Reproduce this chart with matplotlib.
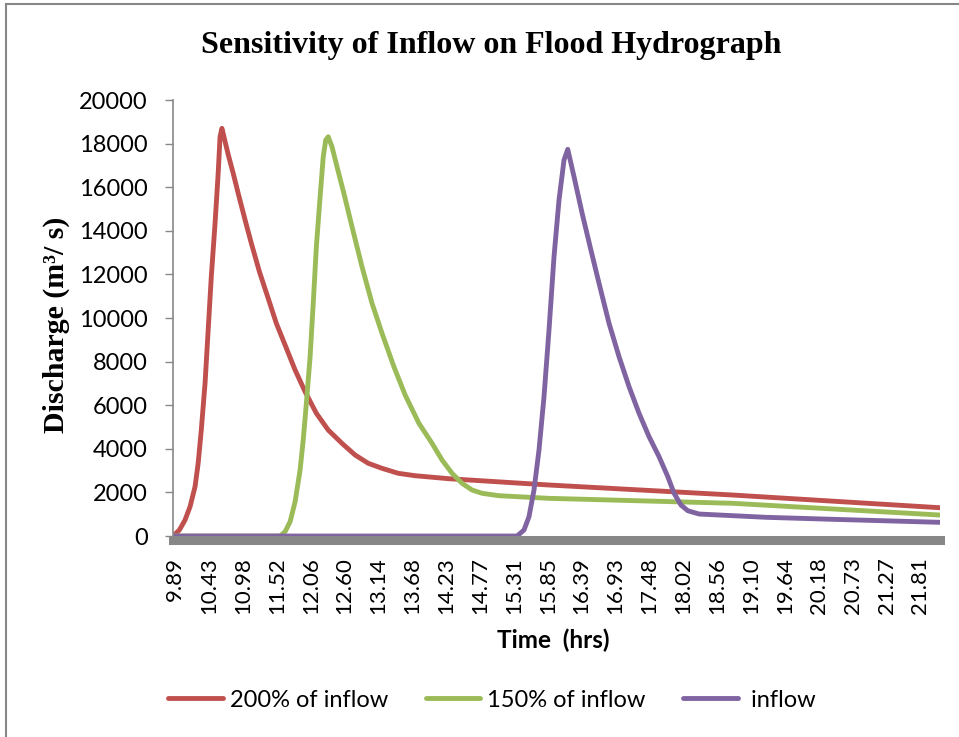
import matplotlib.pyplot as plt
from matplotlib.lines import Line2D

red_t = [9.86, 9.96, 10.05, 10.13, 10.21, 10.26, 10.31, 10.37, 10.42, 10.47, 10.53, 10.58,
         10.61, 10.64, 10.74, 10.82, 10.90, 11.01, 11.11, 11.24, 11.38, 11.51, 11.65,
         11.81, 11.97, 12.15, 12.34, 12.56, 12.77, 12.98, 13.20, 13.46, 13.73, 14.27,
         15.87, 18.81, 22.12]
red_v = [0, 275, 734, 1344, 2261, 3335, 4862, 7004, 9449, 11894, 14343, 16637,
         18316, 18700, 17500, 16640, 15720, 14500, 13430, 12120, 10900, 9757, 8760,
         7615, 6620, 5630, 4860, 4250, 3715, 3335, 3105, 2876, 2766, 2628,
         2340, 1880, 1298]

green_t = [9.86, 11.57, 11.65, 11.73, 11.81, 11.89, 11.94, 11.99, 12.05, 12.10, 12.15,
           12.21, 12.26, 12.30, 12.34, 12.40, 12.48, 12.59, 12.72, 12.88, 13.04, 13.20,
           13.39, 13.57, 13.79, 14.00, 14.16, 14.32, 14.48, 14.64, 14.80, 15.07, 15.87,
           18.81, 22.12]
green_v = [0, 0, 200, 656, 1573, 3027, 4404, 6087, 8225, 10674, 13270,
           15564, 17398, 18165, 18316, 17857, 16940, 15720, 14190, 12350, 10674, 9298,
           7766, 6468, 5170, 4252, 3486, 2876, 2417, 2110, 1959, 1849, 1729,
           1500, 963]

purple_t = [9.86, 15.36, 15.47, 15.55, 15.63, 15.71, 15.79, 15.87, 15.95, 16.03, 16.11,
            16.17, 16.27, 16.40, 16.54, 16.67, 16.83, 16.99, 17.15, 17.31, 17.47, 17.63,
            17.77, 17.87, 17.98, 18.09, 18.27, 19.34, 20.41, 22.12]
purple_v = [0, 0, 275, 885, 2110, 3945, 6390, 9449, 12810, 15412, 17247,
            17738, 16480, 14800, 13120, 11590, 9757, 8225, 6850, 5628, 4555, 3638,
            2720, 1959, 1422, 1160, 1009, 858, 766, 628]

tick_labels = ['9.89', '10.43', '10.98', '11.52', '12.06', '12.60', '13.14', '13.68',
               '14.23', '14.77', '15.31', '15.85', '16.39', '16.93', '17.48', '18.02',
               '18.56', '19.10', '19.64', '20.18', '20.73', '21.27', '21.81']
y_ticks = [0, 2000, 4000, 6000, 8000, 10000, 12000, 14000, 16000, 18000, 20000]

sans = 'Lato'
serif = 'Liberation Serif'
axis_grey = '#878787'

fig = plt.figure(figsize=(9.59, 7.37), dpi=100)
ax = fig.add_axes([0.1799, 0.2727, 0.8008, 0.5916])

ax.plot(red_t, red_v, color='#C0504D', lw=3.5, label='200% of inflow', solid_capstyle='round', solid_joinstyle='round')
ax.plot(green_t, green_v, color='#9BBB59', lw=3.5, label='150% of inflow', solid_capstyle='round', solid_joinstyle='round')
ax.plot(purple_t, purple_v, color='#8064A2', lw=3.5, label=' inflow', solid_capstyle='round', solid_joinstyle='round')

ax.set_xlim(9.85, 22.13)
ax.set_ylim(0, 20000)

ax.set_xticks([float(s) for s in tick_labels])
ax.set_xticklabels(tick_labels)
ax.tick_params(axis='x', length=0, pad=12, labelrotation=90, labelsize=16,
               labelfontfamily=sans)

ax.set_yticks(y_ticks)
ax.set_yticklabels([str(v) for v in y_ticks])
ax.tick_params(axis='y', length=6, width=1, color=axis_grey, pad=12, labelsize=17,
               labelfontfamily=sans)

for s in ['top', 'right']:
    ax.spines[s].set_visible(False)
ax.spines['left'].set_color(axis_grey)
ax.spines['left'].set_linewidth(1.2)
ax.spines['bottom'].set_color(axis_grey)
ax.spines['bottom'].set_linewidth(6.5)
ax.spines['bottom'].set_position(('outward', 3))
ax.spines['bottom'].set_zorder(1)

fig.text(0.512, 0.938, 'Sensitivity of Inflow on Flood Hydrograph', ha='center', va='center',
         family=serif, fontweight='bold', fontsize=23)
fig.text(0.059, 0.559, 'Discharge (m\u00b3/ s)', rotation=90, ha='center', va='center',
         family=serif, fontweight='bold', fontsize=21.5)
fig.text(0.577, 0.131, 'Time  (hrs)', ha='center', va='center',
         family=sans, fontweight='bold', fontsize=17.5)

fig.legend(loc='center', bbox_to_anchor=(0.513, 0.05), ncol=3, frameon=False,
           prop={'family': sans, 'size': 17}, handlelength=2.3, handletextpad=0.3,
           columnspacing=1.6)

# grey border round the chart area
fig.add_artist(Line2D([6 / 959, 1], [1 - 4 / 737, 1 - 4 / 737], color=axis_grey, lw=1.5))
fig.add_artist(Line2D([6 / 959, 6 / 959], [0, 1 - 4 / 737], color=axis_grey, lw=1.5))

plt.savefig('out.png', dpi=100)
